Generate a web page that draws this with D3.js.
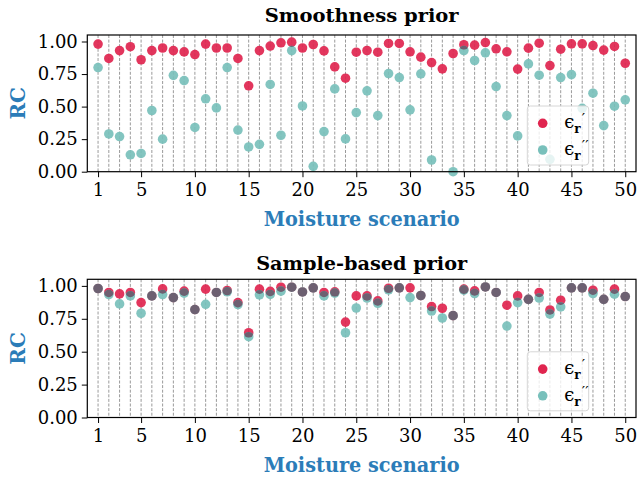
<!DOCTYPE html>
<html>
<head>
<meta charset="utf-8">
<script src="https://cdn.jsdelivr.net/npm/d3@7"></script>
<style>
  body { margin: 0; background: #fff; }
  text { font-family: "DejaVu Serif", serif; }
</style>
</head>
<body>
<div id="chart"></div>
<script>
// moisture scenarios 1..50
var scenarios = d3.range(1, 51);

// smoothness prior
var smoothReal = [0.98, 0.87, 0.93, 0.96, 0.86, 0.93, 0.95, 0.93, 0.92, 0.90,
                  0.98, 0.95, 0.95, 0.87, 0.66, 0.93, 0.965, 0.99, 0.995, 0.95,
                  0.977, 0.928, 0.805, 0.718, 0.918, 0.931, 0.918, 0.985, 0.985, 0.921,
                  0.88, 0.838, 0.79, 0.908, 0.975, 0.972, 0.992, 0.944, 0.921, 0.788,
                  0.949, 0.987, 0.815, 0.941, 0.982, 0.982, 0.969, 0.934, 0.962, 0.833];
var smoothImag = [0.80, 0.29, 0.27, 0.13, 0.14, 0.47, 0.25, 0.74, 0.70, 0.34,
                  0.56, 0.49, 0.80, 0.32, 0.19, 0.21, 0.67, 0.28, 0.93, 0.505,
                  0.041, 0.308, 0.636, 0.252, 0.454, 0.621, 0.431, 0.754, 0.723, 0.475,
                  0.752, 0.09, null, 0.0, 0.931, 0.854, 0.913, 0.654, 0.431, 0.275,
                  0.828, 0.741, 0.095, 0.723, 0.746, 0.487, 0.603, 0.354, 0.503, 0.552];

// sample-based prior
var sampleReal = [0.98, 0.95, 0.939, 0.95, 0.873, 0.924, 0.977, 0.911, 0.96, 0.82,
                  0.975, 0.95, 0.965, 0.873, 0.644, 0.975, 0.958, 0.99, 0.99, 0.954,
                  0.985, 0.95, 0.955, 0.725, 0.924, 0.924, 0.886, 0.982, 0.985, 0.985,
                  0.927, 0.843, 0.83, 0.774, 0.975, 0.962, 0.992, 0.95, 0.853, 0.924,
                  0.898, 0.95, 0.817, 0.891, 0.985, 0.985, 0.967, 0.898, 0.975, 0.919];
var sampleImag = [0.98, 0.934, 0.863, 0.924, 0.792, 0.924, 0.934, 0.911, 0.945, 0.82,
                  0.86, 0.95, 0.955, 0.858, 0.614, 0.932, 0.935, 0.96, 0.99, 0.954,
                  0.985, 0.924, 0.945, 0.644, 0.832, 0.908, 0.868, 0.97, 0.985, 0.911,
                  0.927, 0.809, 0.756, 0.774, 0.968, 0.942, 0.992, 0.95, 0.695, 0.873,
                  0.898, 0.908, 0.786, 0.84, 0.985, 0.985, 0.942, 0.898, 0.937, 0.919];

var xTicks = [1, 5, 10, 15, 20, 25, 30, 35, 40, 45, 50];
var yTicks = [0, 0.25, 0.5, 0.75, 1.0];

var panels = [
  { title: 'Smoothness prior', titleLen: 194, titleY: 22, real: smoothReal, imag: smoothImag, top: 35, bottom: 171.7 },
  { title: 'Sample-based prior', titleLen: 211, titleY: 270, real: sampleReal, imag: sampleImag, top: 279.3, bottom: 417.5 }
];

var w = 637, h = 479;
var left = 87.3, right = 636;
var red = '#e0254f', teal = '#78c0bb', both = '#6c5c6e', blue = '#2b7cb8';

var svg = d3.select('#chart').append('svg')
    .attr('width', w)
    .attr('height', h);

var defs = svg.append('defs');

var x = d3.scaleLinear().domain([0, 51]).range([left, right]);

panels.forEach(function(p, pi) {
  var y = d3.scaleLinear().domain([0, 1.05]).range([p.bottom, p.top]);
  var g = svg.append('g');

  // grid at every scenario
  g.selectAll('.grid')
      .data(scenarios)
      .enter()
      .append('line')
      .attr('x1', function(d) { return x(d); })
      .attr('x2', function(d) { return x(d); })
      .attr('y1', p.top)
      .attr('y2', p.bottom)
      .style('stroke', '#808080')
      .style('stroke-width', 0.8)
      .style('stroke-dasharray', '3,1.6');

  var pts = scenarios.map(function(s, i) {
    return { s: s, re: p.real[i], im: p.imag[i] };
  });

  g.selectAll('.re')
      .data(pts.filter(function(d) { return d.re !== null; }))
      .enter()
      .append('circle')
      .attr('cx', function(d) { return x(d.s); })
      .attr('cy', function(d) { return y(d.re); })
      .attr('r', 4.8)
      .attr('fill', red)
      .attr('fill-opacity', 0.92);

  g.selectAll('.im')
      .data(pts.filter(function(d) { return d.im !== null; }))
      .enter()
      .append('circle')
      .attr('cx', function(d) { return x(d.s); })
      .attr('cy', function(d) { return y(d.im); })
      .attr('r', 4.8)
      .attr('fill', teal)
      .attr('fill-opacity', 0.92);

  // where the two markers overlap the colours darken
  var ov = pts.filter(function(d) { return d.re !== null && d.im !== null; });
  defs.selectAll('.clip' + pi)
      .data(ov)
      .enter()
      .append('clipPath')
      .attr('id', function(d) { return 'c' + pi + '_' + d.s; })
      .append('circle')
      .attr('cx', function(d) { return x(d.s); })
      .attr('cy', function(d) { return y(d.re); })
      .attr('r', 4.8);

  g.selectAll('.ov')
      .data(ov)
      .enter()
      .append('circle')
      .attr('cx', function(d) { return x(d.s); })
      .attr('cy', function(d) { return y(d.im); })
      .attr('r', 4.8)
      .attr('clip-path', function(d) { return 'url(#c' + pi + '_' + d.s + ')'; })
      .attr('fill', both)
      .attr('fill-opacity', 0.95);

  // axes
  var xa = g.append('g')
      .attr('transform', 'translate(0,' + p.bottom + ')')
      .call(d3.axisBottom(x).tickValues(xTicks).tickSize(5.5).tickPadding(6).tickFormat(d3.format('d')));
  var ya = g.append('g')
      .attr('transform', 'translate(' + left + ',0)')
      .call(d3.axisLeft(y).tickValues(yTicks).tickSize(5.5).tickPadding(4).tickFormat(d3.format('.2f')));
  [xa, ya].forEach(function(a) {
    a.select('.domain').remove();
    a.selectAll('line').style('stroke', '#000').style('stroke-width', 1);
    a.selectAll('text')
        .style('font-family', '"DejaVu Serif", serif')
        .style('font-size', '18px')
        .style('fill', '#000');
  });

  g.append('rect')
      .attr('x', left)
      .attr('y', p.top)
      .attr('width', right - left)
      .attr('height', p.bottom - p.top)
      .style('fill', 'none')
      .style('stroke', '#000')
      .style('stroke-width', 1.2);

  // legend
  var lg = g.append('g').attr('transform', 'translate(527.3,' + (p.bottom - 65.7) + ')');
  lg.append('rect')
      .attr('width', 61.4)
      .attr('height', 59)
      .attr('rx', 3)
      .style('fill', '#fff')
      .style('fill-opacity', 0.8)
      .style('stroke', '#d6d6d6')
      .style('stroke-width', 1);
  [[red, "\u2032"], [teal, "\u2032\u2032"]].forEach(function(e, i) {
    var cy = 17.3 + i * 26.7;
    lg.append('circle')
        .attr('cx', 15.4)
        .attr('cy', cy)
        .attr('r', 4.8)
        .attr('fill', e[0]);
    lg.append('text')
        .attr('x', 37)
        .attr('y', cy + 5)
        .style('font-size', '18px')
        .text('\u03f5');
    lg.append('text')
        .attr('x', 47)
        .attr('y', cy + 10)
        .style('font-size', '12px')
        .style('font-weight', 'bold')
        .text('r');
    lg.append('text')
        .attr('x', 54.5)
        .attr('y', cy + 1)
        .style('font-size', '15px')
        .text(e[1]);
  });

  // titles and labels
  svg.append('text')
      .attr('x', (left + right) / 2)
      .attr('y', p.titleY)
      .attr('text-anchor', 'middle')
      .attr('textLength', p.titleLen)
      .attr('lengthAdjust', 'spacingAndGlyphs')
      .style('font-size', '19px')
      .style('font-weight', 'bold')
      .text(p.title);

  svg.append('text')
      .attr('x', (left + right) / 2)
      .attr('y', p.bottom + 54)
      .attr('text-anchor', 'middle')
      .attr('textLength', 196)
      .attr('lengthAdjust', 'spacingAndGlyphs')
      .style('font-size', '20px')
      .style('font-weight', 'bold')
      .style('fill', blue)
      .text('Moisture scenario');

  svg.append('text')
      .attr('transform', 'translate(25,' + ((p.top + p.bottom) / 2) + ') rotate(-90)')
      .attr('text-anchor', 'middle')
      .style('font-size', '20px')
      .style('font-weight', 'bold')
      .style('fill', blue)
      .text('RC');
});
</script>
</body>
</html>
